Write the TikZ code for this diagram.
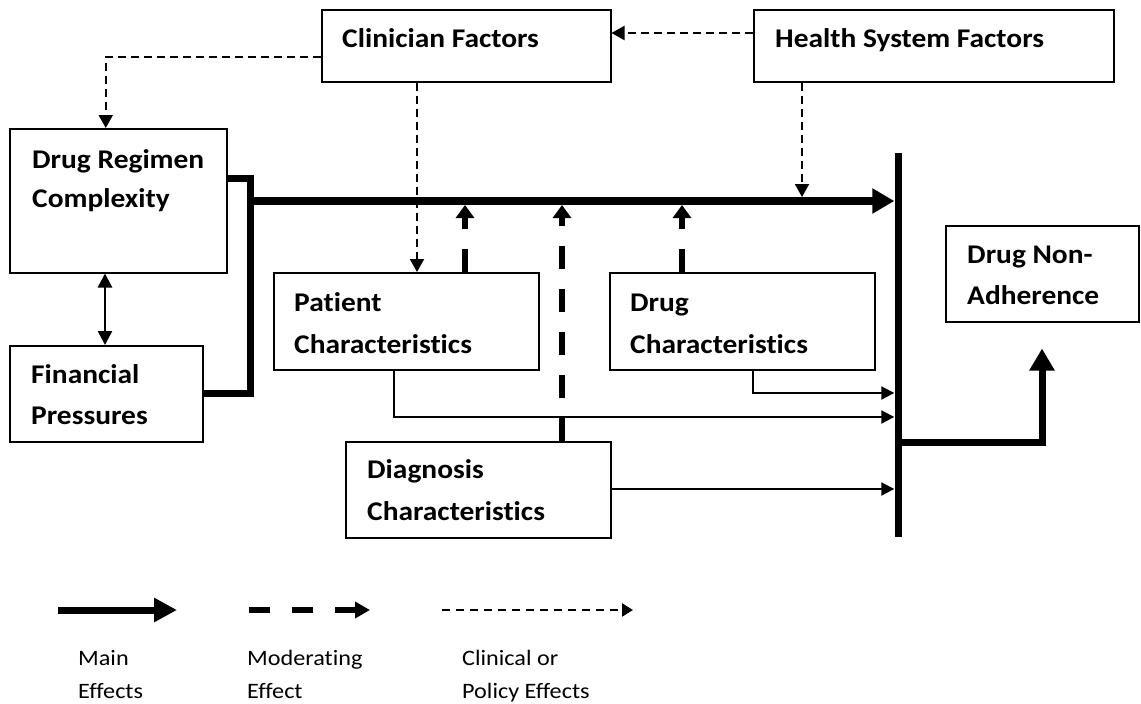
\documentclass[tikz,border=0pt]{standalone}
\usepackage{fontspec}
\setmainfont{Carlito}[Ligatures=NoCommon]
\newfontfamily\boxfont{Carlito}[FakeStretch=1.09,Ligatures=NoCommon]
\newfontfamily\legfont{Carlito}[FakeStretch=1.10,Ligatures=NoCommon]
\usetikzlibrary{arrows.meta,calc}
\tikzset{
  box/.style={draw, line width=1.5pt, anchor=north west, inner sep=0pt},
  lbl/.style={anchor=base west, inner sep=0pt, font=\boxfont\bfseries\fontsize{27}{32}\selectfont},
  leg/.style={anchor=base west, inner sep=0pt, font=\legfont\fontsize{22}{26}\selectfont},
  clin/.style={line width=2pt, dash pattern=on 8pt off 5pt, -{Triangle[length=13pt,width=14pt]}},
  moder/.style={line width=6pt, dash pattern=on 23pt off 20pt, -{Triangle[length=13pt,width=18pt]}},
  thinarr/.style={line width=2pt, -{Triangle[length=13pt,width=13pt]}},
  mainarr/.style={line width=8pt, -{Triangle[length=22pt,width=24pt]}},
}
\begin{document}
\begin{tikzpicture}[x=1pt,y=-1pt]
\useasboundingbox (0,0) rectangle (1141,704);
% boxes
\node[box, minimum width=289pt, minimum height=72pt] (cf) at (321,9) {};
\node[box, minimum width=360pt, minimum height=72pt] (hsf) at (753,9) {};
\node[box, minimum width=217pt, minimum height=144pt] (drc) at (9,128) {};
\node[box, minimum width=193pt, minimum height=96pt] (fp) at (9,345) {};
\node[box, minimum width=265pt, minimum height=97pt] (pc) at (273,272) {};
\node[box, minimum width=265pt, minimum height=97pt] (dc) at (609,272) {};
\node[box, minimum width=265pt, minimum height=96pt] (dg) at (345,441) {};
\node[box, minimum width=193pt, minimum height=96pt] (dna) at (945,225) {};
% texts
\node[lbl] (cft) at (342,47) {Clinician Factors};
\node[lbl] (hsft) at (775,47) {Health System Factors};
\node[lbl] (drct1) at (32,168) {Drug Regimen};
\node[lbl] (drct2) at (32,207) {Complexity};
\node[lbl] (fpt1) at (31,383) {Financial};
\node[lbl] (fpt2) at (31,424) {Pressures};
\node[lbl] (pct1) at (294,311) {Patient};
\node[lbl] (pct2) at (294,353) {Characteristics};
\node[lbl] (dct1) at (630,311) {Drug};
\node[lbl] (dct2) at (630,353) {Characteristics};
\node[lbl] (dgt1) at (367,478) {Diagnosis};
\node[lbl] (dgt2) at (367,520) {Characteristics};
\node[lbl] (dnat1) at (967,263) {Drug Non-};
\node[lbl] (dnat2) at (967,304) {Adherence};
% vertical bar
\node[fill, inner sep=0pt, minimum width=7pt, minimum height=384pt, anchor=north] (bar) at (898,153) {};
% junction coordinates
\coordinate (bkt) at (250,178);
\coordinate (bkb) at (250,393);
\coordinate (ml) at (250,201);
\coordinate (dcj) at (753,393);
\coordinate (pcj) at (394,417);
\coordinate (dgj) at (700,489);
\coordinate (outj) at (1042,442);
% bracket and main line
\draw[line width=7pt] (drc.east |- bkt) -- (bkt) -- (bkb) -- (fp.east |- bkb);
\draw[mainarr] ([xshift=-3.5pt]ml) -- (bar.west |- ml);
% clinical / policy
\draw[clin] ([yshift=-24pt]hsf.north west) -- ([yshift=-24pt]cf.north east);
\draw[clin] ([yshift=-48pt]cf.north west) -| ([xshift=-12.5pt]drc.north);
\draw[clin] ([xshift=96pt]cf.south west) -- ([xshift=96pt]cf.south west |- pc.north);
\draw[clin] ($(hsf.south west)+(49,0)$) -- ($(hsf.south west |- ml)+(49,-4)$);
% moderating
\draw[moder] ($(pc.north west)+(192,0)$) -- ($(pc.north west |- ml)+(192,4)$);
\draw[moder] ($(dg.north west)+(217,0)$) -- ($(dg.north west |- ml)+(217,4)$);
\draw[moder] ($(dc.north west)+(73,0)$) -- ($(dc.north west |- ml)+(73,4)$);
% thin main effects
\draw[thinarr] (dc.south -| dcj) -- (dcj) -- (dcj -| bar.west);
\draw[thinarr] (pc.south -| pcj) -- (pcj) -- (pcj -| bar.west);
\draw[thinarr] (dg.east |- dgj) -- (bar.west |- dgj);
% double arrow
\draw[line width=2.5pt, {Triangle[length=14pt,width=14pt]}-{Triangle[length=14pt,width=14pt]}] ($(drc.south west)+(96,0)$) -- ($(fp.north west)+(96,0)$);
% output
\draw[line width=7pt, -{Triangle[length=22pt,width=24pt]}] (bar.east |- outj) -- (outj) -- ($(dna.south -| outj)+(0,26)$);
% legend
\coordinate (la1) at (58,610); \coordinate (la2) at (177,610);
\coordinate (lb1) at (249,610); \coordinate (lb2) at (370,610);
\coordinate (lc1) at (442,610); \coordinate (lc2) at (633,610);
\draw[line width=7pt, -{Triangle[length=23pt,width=23pt]}] (la1) -- (la2);
\draw[line width=6pt, dash pattern=on 21pt off 22pt, -{Triangle[length=15pt,width=16pt]}] (lb1) -- (lb2);
\draw[line width=2.5pt, dash pattern=on 8pt off 6pt, -{Triangle[length=11pt,width=13pt]}] (lc1) -- (lc2);
\node[leg] (lt1) at (78,665) {Main};
\node[leg] (lt2) at (78,698) {Effects};
\node[leg] (lt3) at (247,665) {Moderating};
\node[leg] (lt4) at (247,698) {Effect};
\node[leg] (lt5) at (462,665) {Clinical or};
\node[leg] (lt6) at (462,698) {Policy Effects};
\end{tikzpicture}
\end{document}
